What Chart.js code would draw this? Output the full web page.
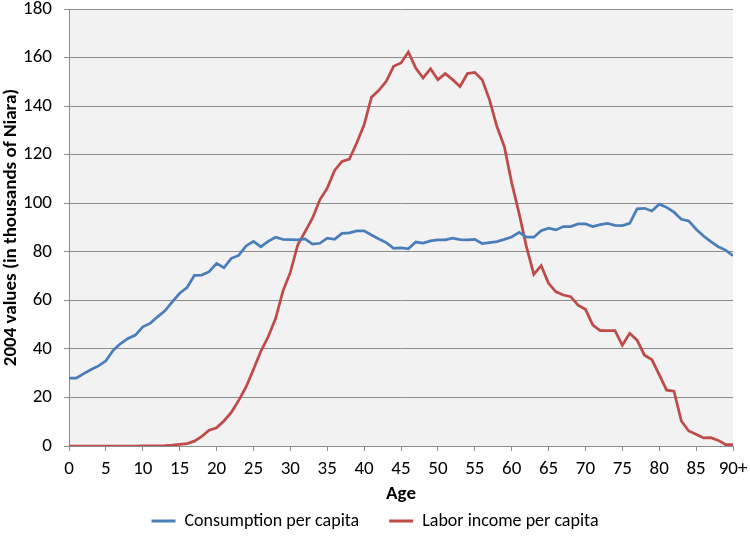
<!DOCTYPE html>
<html lang="en">
<head>
    <meta charset="UTF-8">
    <title>Consumption and labor income per capita by age</title>
    <script src="https://cdn.jsdelivr.net/npm/chart.js"></script>
    <style>
        body {
            margin: 0;
            padding: 0;
            background: #ffffff;
        }
        .wrap {
            width: 750px;
            height: 546px;
        }
    </style>
</head>
<body>
    <div class="wrap">
        <canvas id="ageChart" width="750" height="546"></canvas>
    </div>
    <script>
        // ages 0..90 (90 = "90+")
        const ages = [
            0, 1, 2, 3, 4, 5, 6, 7, 8, 9,
            10, 11, 12, 13, 14, 15, 16, 17, 18, 19,
            20, 21, 22, 23, 24, 25, 26, 27, 28, 29,
            30, 31, 32, 33, 34, 35, 36, 37, 38, 39,
            40, 41, 42, 43, 44, 45, 46, 47, 48, 49,
            50, 51, 52, 53, 54, 55, 56, 57, 58, 59,
            60, 61, 62, 63, 64, 65, 66, 67, 68, 69,
            70, 71, 72, 73, 74, 75, 76, 77, 78, 79,
            80, 81, 82, 83, 84, 85, 86, 87, 88, 89,
            90
        ];
        const lastAgeLabel = '90+';

        const consumption = [
            28.0, 28.0, 29.8, 31.5, 33.0, 35.1, 39.5, 42.2, 44.3, 45.7,
            49.1, 50.5, 53.2, 55.7, 59.4, 62.9, 65.3, 70.3, 70.4, 71.8,
            75.2, 73.4, 77.3, 78.5, 82.4, 84.3, 82.1, 84.3, 86.0, 85.1,
            85.0, 84.9, 85.3, 83.2, 83.5, 85.6, 85.1, 87.6, 87.8, 88.6,
            88.6, 86.9, 85.3, 83.8, 81.4, 81.6, 81.2, 84.0, 83.6, 84.5,
            84.9, 84.9, 85.6, 85.0, 84.9, 85.1, 83.4, 83.8, 84.2, 85.1,
            86.1, 88.0, 86.0, 86.0, 88.7, 89.7, 89.0, 90.4, 90.4, 91.5,
            91.5, 90.4, 91.2, 91.7, 90.9, 90.8, 91.7, 97.7, 97.9, 96.8,
            99.6, 98.3, 96.3, 93.4, 92.7, 89.3, 86.5, 84.2, 82.1, 80.7,
            78.4
        ];

        const laborIncome = [
            0.0, 0.0, 0.0, 0.0, 0.0, 0.0, 0.0, 0.0, 0.0, 0.0,
            0.1, 0.1, 0.1, 0.2, 0.4, 0.7, 1.0, 2.0, 4.0, 6.5,
            7.5, 10.3, 13.8, 18.8, 24.3, 31.5, 39.0, 45.0, 52.5, 63.8,
            71.5, 82.8, 88.3, 93.8, 101.4, 106.2, 113.5, 117.2, 118.2, 124.8,
            132.3, 143.7, 146.5, 150.2, 156.4, 157.8, 162.3, 155.7, 151.6, 155.4,
            150.9, 153.4, 150.9, 148.1, 153.4, 153.9, 150.9, 142.6, 131.6, 123.4,
            108.5, 95.9, 82.1, 70.7, 74.3, 67.0, 63.5, 62.2, 61.5, 58.0,
            56.3, 49.8, 47.5, 47.5, 47.5, 41.5, 46.4, 43.6, 37.4, 35.6,
            29.4, 23.0, 22.6, 10.3, 6.2, 4.8, 3.3, 3.4, 2.3, 0.6,
            0.6
        ];

        const yTicks = { min: 0, max: 180, step: 20 };
        const xStep = 5;

        const fontFamily = 'Carlito, "Liberation Sans Narrow", "Liberation Sans", sans-serif';
        const gridGray = '#8c8c8c';

        function toPoints(values) {
            return ages.map((a, i) => ({ x: a, y: values[i] }));
        }

        // light grey plot area like the spreadsheet original
        const plotBackground = {
            id: 'plotBackground',
            beforeDraw(chart) {
                const { ctx, chartArea } = chart;
                ctx.save();
                ctx.fillStyle = '#f2f2f2';
                ctx.fillRect(chartArea.left, chartArea.top, chartArea.right - chartArea.left, chartArea.bottom - chartArea.top);
                ctx.restore();
            }
        };

        const ctx = document.getElementById('ageChart').getContext('2d');
        new Chart(ctx, {
            type: 'line',
            data: {
                datasets: [
                    {
                        label: 'Consumption per capita',
                        data: toPoints(consumption),
                        borderColor: '#4a7ebb',
                        backgroundColor: '#4a7ebb',
                        borderWidth: 2.75,
                        pointRadius: 0,
                        tension: 0
                    },
                    {
                        label: 'Labor income per capita',
                        data: toPoints(laborIncome),
                        borderColor: '#be4b48',
                        backgroundColor: '#be4b48',
                        borderWidth: 2.75,
                        pointRadius: 0,
                        tension: 0
                    }
                ]
            },
            options: {
                responsive: false,
                animation: false,
                layout: { padding: { left: 0, right: 0, top: 0, bottom: 6 } },
                plugins: {
                    tooltip: { enabled: false },
                    legend: {
                        position: 'bottom',
                        labels: {
                            color: '#000',
                            font: { family: fontFamily, size: 18 },
                            boxWidth: 24,
                            boxHeight: 3,
                            padding: 30,
                            generateLabels(chart) {
                                return Chart.defaults.plugins.legend.labels.generateLabels(chart)
                                    .map(l => Object.assign(l, { lineWidth: 0 }));
                            }
                        }
                    }
                },
                scales: {
                    x: {
                        type: 'linear',
                        min: ages[0],
                        max: ages[ages.length - 1],
                        afterFit(scale) {
                            scale.height = 36;
                            scale.paddingRight = 17;
                        },
                        ticks: {
                            stepSize: xStep,
                            color: '#000',
                            font: { family: fontFamily, size: 19 },
                            maxRotation: 0,
                            padding: 7,
                            callback: v => v === ages[ages.length - 1] ? lastAgeLabel : v
                        },
                        grid: {
                            drawOnChartArea: false,
                            color: gridGray,
                            tickLength: 5
                        },
                        border: { color: gridGray },
                        title: {
                            display: true,
                            text: 'Age',
                            color: '#000',
                            font: { family: fontFamily, size: 19, weight: 'bold' },
                            padding: { top: 0, bottom: -23.6 }
                        }
                    },
                    y: {
                        min: yTicks.min,
                        max: yTicks.max,
                        afterFit(scale) {
                            scale.width = 69;
                            scale.paddingTop = 9;
                        },
                        ticks: {
                            stepSize: yTicks.step,
                            color: '#000',
                            font: { family: fontFamily, size: 19 },
                            padding: 12
                        },
                        grid: {
                            color: gridGray,
                            tickLength: 5
                        },
                        border: { color: gridGray },
                        title: {
                            display: true,
                            text: '2004 values (in thousands of Niara)',
                            color: '#000',
                            font: { family: fontFamily, size: 19, weight: 'bold' },
                            padding: { top: 0, bottom: 0 }
                        }
                    }
                }
            },
            plugins: [plotBackground]
        });
    </script>
</body>
</html>
